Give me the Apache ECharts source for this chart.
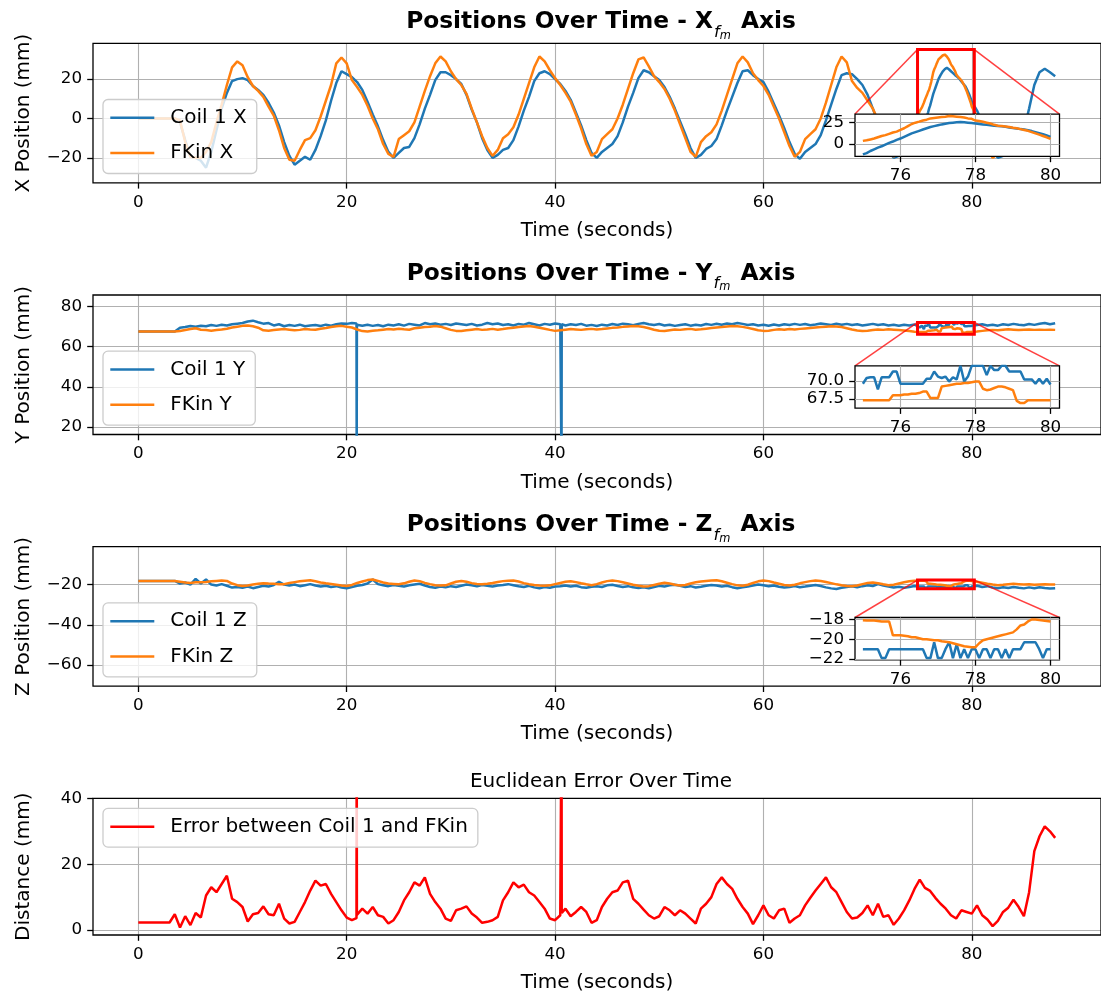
<!DOCTYPE html>
<html>
<head>
<meta charset="utf-8">
<script src="https://cdn.jsdelivr.net/npm/echarts@6/dist/echarts.min.js"></script>
<style>
  html, body { margin: 0; padding: 0; background: #fff; }
  #chart { width: 1101px; height: 994px; }
</style>
</head>
<body>
<div id="chart"></div>
<script>
// ---- recorded samples -------------------------------------------------------
// Log resampled every 0.5 s from 0 to 88 s.
const T = Array.from({ length: 177 }, (_, i) => i / 2);
// Finer 0.1 s samples for the 75–80 s window that the insets magnify.
const T_ZOOM = Array.from({ length: 51 }, (_, i) => (750 + i) / 10);

const coilX = [
  0, 0, 0, 0, 0, 0, 0, 0, -2, -11,
  -19.5, -20, -21.5, -25, -17, -6, 5, 13, 19, 20,
  20.5, 19.5, 16.5, 14.5, 12, 8, 3, -3.5, -12, -19,
  -23.5, -21.5, -19.5, -21, -16, -9, -1, 9, 18, 24,
  22.5, 21, 18.5, 14.5, 8.5, 2, -4, -11, -17, -20,
  -17.5, -15, -14.5, -10, -3, 5, 12, 19.5, 23.5, 23.5,
  22, 20, 17.5, 12, 4.5, -2, -10, -16, -20, -18.5,
  -16, -15, -11, -4, 4, 11, 19, 23, 24, 22.5,
  20, 17.5, 14, 9.5, 3, -3.5, -11, -17.5, -20, -17,
  -15, -13, -9, -2, 6, 13, 20.5, 24.5, 23.5, 21.5,
  19.5, 16, 11, 5, -1.5, -8, -15, -20, -18.5, -15.5,
  -14, -10.5, -3.5, 4, 11, 18, 24, 24.5, 22, 20,
  18.5, 13.5, 7.5, 1.5, -5, -12, -18, -20.5, -17, -15,
  -13, -8.5, -1, 7, 15, 22, 23, 22.5, 20, 17,
  12, 5, -2, -9, -16, -20, -19, -17, -15.5, -14,
  -12, -2.5, 6.5, 15.5, 22, 25.5, 24, 21.5, 18.8, 15.2,
  8.5, 4, -2, -9, -16, -20, -19, -17, -15.5, -13,
  -6, 5, 17, 23.5, 25.3, 23.5, 21.5
];
const fkinX = [
  0, 0, 0, 0, 0, 0, 0, 0, -1, -12,
  -19.5, -20, -20, -17, -12, -2, 7, 17, 26, 29,
  27, 21, 16.5, 14, 11, 6, 1.5, -6, -15, -21,
  -21.5, -16, -11, -10, -6, 1, 9, 17, 28, 31,
  28, 19.5, 16, 12, 6.5, 0, -5.5, -13, -18, -19.5,
  -10.5, -8.5, -6.5, -2, 6, 14, 21.5, 28, 31.5, 29,
  24, 20, 17, 12.5, 5, -2, -9, -15, -19, -16,
  -10, -8, -4.5, 2, 10, 18, 26, 31.5, 29, 24.5,
  20.5, 17, 13, 8.5, 2, -5, -13, -19, -17, -10.5,
  -8, -5.5, 0, 7, 15, 23, 30, 31, 26.5, 21.5,
  18.5, 15, 10, 4, -3, -10, -17, -19.5, -12, -9,
  -7, -3, 4, 12, 20, 28, 31.5, 28.5, 23, 19.5,
  16.5, 12, 6, 0, -7, -14, -19.5, -17, -10.5, -8,
  -5.5, 0, 8, 17, 26, 31.5, 28.5, 19, 15.5, 13,
  9, 5, -1, -9, -16, -19.5, -15, -10, -8, -3,
  3.8, 9.5, 16.5, 26.2, 31, 32, 27.5, 22.5, 19, 14,
  6, 1, -7, -15, -20, -18, -12, -10, -8.5, -8,
  -7.5, -7, -6.5, -6.5, -6.5, -6.8, -6.8
];
const coilY = [
  67.6, 67.6, 67.6, 67.6, 67.6, 67.6, 67.6, 67.6, 69.5, 69.8,
  70.3, 70, 70.5, 70.2, 70.8, 70.4, 71, 70.6, 71.2, 71.5,
  71.8, 72.6, 73, 72.2, 71.5, 71.8, 70.6, 71.2, 70.2, 70.8,
  70.4, 71, 70.2, 70.6, 70.8, 70.3, 71, 70.5, 71.2, 71.6,
  71.4, 71.8, 71, 70.5, 71, 70.4, 70.8, 70.2, 71, 70.6,
  71.2, 70.5, 71.4, 71, 70.6, 71.8, 71.2, 71.6, 71, 71.4,
  70.8, 71.6, 71.2, 70.8, 71.4, 70.6, 71, 71.8, 71.2, 71.6,
  70.8, 71.2, 70.6, 71.4, 71, 71.8, 71.2, 70.6, 71.4, 71,
  71.6, 71.2, 70.6, 71.2, 70.8, 71.4, 70.5, 70.9, 70.3, 71,
  70.6, 71.3, 70.8, 71.5, 71.2, 70.7, 71.4, 71.8, 71.2, 70.8,
  71.3, 70.6, 71, 70.4, 70.8, 71.2, 70.5, 71, 70.6, 71.3,
  70.9, 71.5, 71, 71.6, 71.2, 71.8, 71.4, 70.8, 71.2, 70.6,
  71, 70.5, 71.1, 70.6, 71.2, 70.8, 71.4, 70.9, 71.3, 70.7,
  71.1, 71.6, 71.2, 70.8, 71.5, 71, 71.4, 70.8, 71.2, 70.6,
  71, 71.4, 70.8, 71.2, 70.6, 71, 70.5, 71, 70.6, 71.1,
  69.6, 70.5, 69.6, 69.6, 70.6, 70.2, 72.1, 71.5, 71.3, 70.2,
  69.5, 70.8, 71.2, 70.6, 71, 70.5, 71.2, 70.8, 71.4, 71,
  70.7, 71.3, 70.9, 71.5, 71.8, 71.2, 71.7
];
const fkinY = [
  67.6, 67.6, 67.6, 67.6, 67.6, 67.6, 67.6, 67.6, 67.8, 68.3,
  68.8, 69.2, 68.5, 68.3, 68, 68.3, 68.6, 69, 69.6, 70,
  70.4, 70.6, 70.2, 69.5, 68.2, 68, 68.3, 68.6, 68.8, 68.5,
  68.2, 68.4, 68.8, 68.6, 68.5, 69, 69.3, 69.8, 70.2, 70.4,
  70, 69.6, 68.6, 67.8, 67.6, 68, 68.2, 68.5, 68.8, 68.6,
  69, 68.7, 68.5, 69.2, 69.5, 69.8, 70, 70.3, 70, 69.2,
  68.4, 67.9, 67.8, 68.2, 68.5, 68.8, 68.4, 68.6, 68.9, 68.5,
  68.8, 69.2, 69.5, 69.8, 70.1, 70.3, 70, 69.5, 69, 68.4,
  67.9, 68.2, 68.5, 68.8, 68.6, 68.4, 68.7, 68.9, 68.6, 68.8,
  69.1, 69.4, 69.6, 69.9, 70.1, 70.3, 70.2, 69.8, 69.2, 68.5,
  68, 67.8, 68.2, 68.6, 68.4, 68.7, 68.9, 68.5, 68.7, 69,
  69.3, 69.6, 69.8, 70.1, 70.3, 70.2, 69.9, 69.4, 68.8, 68.2,
  67.9, 68, 68.4, 68.7, 68.5, 68.8, 68.6, 68.9, 69.1, 69.3,
  69.6, 69.8, 70, 70.2, 70.1, 69.8, 69.2, 68.6, 68.1, 67.8,
  68, 68.3, 68.6, 68.4, 68.7, 68.5, 68.3, 68.1, 67.8, 67.5,
  67.3, 67.3, 68, 68.3, 67.6, 69.6, 69.9, 69, 68.7, 67.3,
  67.3, 67.6, 67.9, 68.2, 68.4, 68.2, 68.5, 68.7, 68.5, 68.3,
  68.5, 68.6, 68.4, 68.5, 68.4, 68.5, 68.4
];
const coilZ = [
  -18.2, -18.2, -18.2, -18.2, -18.2, -18.2, -18.2, -18.2, -19.5, -19,
  -20, -17.2, -19.5, -17.5, -20, -20.5, -19.8, -20.6, -21.5, -21.2,
  -21.6, -21, -21.8, -21.2, -20.6, -21, -20.2, -18.6, -20, -20.5,
  -20, -20.8, -20.3, -19.8, -20.5, -21, -20.6, -21.2, -20.8, -21.5,
  -21.8, -21.2, -20.6, -20.2, -19.5, -17.5, -19.8, -20.3, -20.8, -20.2,
  -20.6, -21, -20.4, -20, -19.6, -20.5, -21.2, -21.6, -21, -21.4,
  -20.8, -21.2, -20.6, -20, -20.4, -20.9, -20.2, -20.6, -21, -20.5,
  -20.2, -19.8, -20.3, -20.8, -21.2, -20.6, -21.4, -21.8, -21.2, -21.6,
  -21, -20.8, -20.5, -21, -20.6, -21.3, -21.6, -21.1, -20.8, -21.2,
  -20.4, -20.1, -20.7, -21.2, -20.8, -21.4, -21.7, -21.3, -21.8, -21.2,
  -20.6, -21, -20.4, -20.1, -20.6, -21.2, -20.8, -21.5, -21.1, -20.6,
  -20.2, -20.5, -21, -20.6, -21.3, -21.8, -21.4, -21, -20.5, -20,
  -20.4, -20.9, -20.5, -21.1, -21.5, -21.2, -20.7, -21.3, -21, -20.6,
  -20.2, -20.7, -21.4, -21.9, -22.2, -21.6, -21.2, -20.9, -21.4, -20.8,
  -20.3, -20.7, -19.8, -20.5, -21, -21.5, -21.1, -21.6, -21.2, -20.7,
  -21, -21.9, -21, -21, -21.9, -20.5, -21, -21, -21, -20.3,
  -21, -20.6, -21.2, -20.8, -21.5, -21.8, -21.3, -21.7, -21.2, -21.6,
  -21.9, -21.4, -21.8, -21.3, -21.7, -22, -21.8
];
const fkinZ = [
  -18.2, -18.2, -18.2, -18.2, -18.2, -18.2, -18.2, -18.2, -18.6, -19,
  -19.2, -18.9, -18.8, -18.7, -18.4, -18.2, -18, -18.2, -19.5, -20.3,
  -20.7, -20.5, -20, -19.6, -19.3, -19.5, -19.6, -19.8, -19.8, -19.2,
  -18.8, -18.4, -18.1, -17.9, -18.4, -19, -19.4, -19.7, -20.1, -20.5,
  -20.7, -20.2, -19.2, -18.5, -17.8, -17.5, -18.2, -19, -19.5, -19.7,
  -19.9, -19.4, -18.6, -18, -18.3, -19.2, -19.8, -20.3, -20.5, -20.4,
  -19.5, -18.6, -18.2, -18.6, -19.3, -19.7, -19.9, -19.6, -19.2, -18.7,
  -18.3, -18.1, -18, -18.5, -19.3, -19.8, -20.2, -20.5, -20.6, -20.4,
  -19.8, -19.2, -18.6, -18.4, -18.8, -19.4, -19.9, -20.3, -19.8, -19,
  -18.3, -18, -18.3, -18.9, -19.5, -20.1, -20.6, -21, -20.8, -20.2,
  -19.6, -19.1, -19.5, -20.1, -20.5, -20.2, -19.5, -18.9, -18.5, -18.2,
  -18, -17.9, -18.4, -19.1, -19.8, -20.4, -20.6, -20.1, -19.2, -18.4,
  -18, -18.3, -19, -19.6, -20.2, -20.5, -20.1, -19.4, -18.8, -18.3,
  -18, -18.2, -18.7, -19.3, -19.9, -20.4, -20.7, -20.9, -20.5, -19.8,
  -19.2, -19, -19.4, -19.9, -20.3, -20.1, -19.5, -18.9, -18.4, -18.1,
  -18.07, -18.2, -19.6, -19.9, -20.1, -20.5, -20.8, -19.8, -19.3, -18,
  -18.2, -18.6, -19.1, -19.6, -20, -20.3, -20.1, -19.8, -19.6, -19.8,
  -20, -19.9, -20.1, -20, -19.9, -20, -20
];
const errDist = [
  2.3, 2.3, 2.3, 2.3, 2.3, 2.3, 2.3, 4.8, 0.8, 4.2,
  1.5, 5.2, 3.8, 10.5, 13, 11.5, 14, 16.5, 9.5, 8.5,
  7, 2.6, 4.8, 5.2, 7.2, 4.8, 4.5, 8, 3.5, 2,
  2.5, 5.5, 8.5, 12, 15, 13.5, 14, 11, 8.5, 6,
  3.8, 3, 5, 6.5, 5, 7, 4.5, 4, 2, 3,
  5.5, 9, 11.5, 14.5, 13.5, 16, 11, 8.5, 6.5, 3.5,
  2.8, 6, 6.5, 7.2, 5, 3.8, 2.2, 2.5, 3, 4,
  9, 11.5, 14.5, 13, 13.8, 11.5, 10.5, 8.5, 6.5, 3.5,
  3, 4.5, 6.5, 4.2, 5.5, 7, 5.5, 2.2, 3, 7,
  9.5, 11.5, 12, 14.5, 15, 9.5, 8, 6.2, 4.5, 3.5,
  4.2, 7, 6, 4.5, 6, 5, 3.5, 2, 6.5, 8,
  10, 14, 16, 14, 12.5, 9.5, 7, 5, 1.8, 4.5,
  7.5, 4.5, 3.5, 6, 6.5, 2.2, 3.5, 4.5, 7.5, 9.8,
  12, 14, 16, 13, 11.5, 8.5, 5.5, 3.5, 3.8, 5.2,
  7.5, 4.5, 8, 4, 4.5, 1.6, 3.5, 6, 9, 12.5,
  15.3, 12.8, 11.9, 9.8, 8, 6.5, 4.5, 3.5, 6, 5.5,
  5, 7.5, 4.5, 3.2, 1.2, 2.8, 5.5, 6.8, 9.2, 7,
  4.2, 11.5, 24, 28.5, 31.5, 30, 28
];

// Two dropouts of the coil Y reading, each a single bad sample.
const coilYSpikes = [[20.94, 71.6], [20.96, 0], [20.98, 71.0], [40.60, 71.4], [40.62, 0], [40.64, 71.2]];
const errSpikes = [[20.94, 3.6], [20.96, 68], [20.98, 4.6], [40.60, 4.0], [40.62, 68], [40.64, 5.2]];

// 75–80 s window at 0.1 s
const coilXZoom = [
  -12, -10.5, -8, -6, -4, -2.5, -0.5, 1.5, 3, 5,
  6.5, 8.5, 10.5, 12.5, 14, 15.5, 17, 18.5, 20, 21,
  22, 23, 23.8, 24.5, 25, 25.5, 25.8, 25.5, 25, 24.5,
  24, 23.5, 23, 22.5, 22, 21.5, 21.2, 20.8, 20.2, 19.5,
  18.8, 18.2, 17.5, 17, 16.2, 15.2, 14, 12.8, 11.5, 10,
  8.5
];
const fkinXZoom = [
  3.8, 4.5, 5.5, 6.5, 8, 9.5, 10.5, 12, 13.5, 14.6,
  16.5, 18.5, 21, 23.5, 25, 26.2, 27.5, 28.5, 30, 30.5,
  31, 31.5, 32, 32.7, 32.5, 32, 31.5, 31, 30, 29.5,
  27.5, 27, 26, 25, 24, 22.5, 21.5, 21, 20.5, 20,
  19, 18.5, 17.5, 16.5, 15.5, 14, 12.5, 11, 9.5, 8,
  6
];
const coilYZoom = [
  69.6, 70.4, 70.5, 70.5, 68.8, 70.5, 70.5, 70.5, 71.3, 71.3,
  69.6, 69.6, 69.6, 69.6, 69.6, 69.6, 69.6, 70.3, 70.3, 71.3,
  70.6, 70.4, 70.6, 69.9, 70.5, 70.2, 72.1, 69.9, 70.6, 72.1,
  72.1, 72.1, 72.1, 70.8, 72.1, 71.5, 71.5, 72.1, 72.1, 71.3,
  71.3, 71.3, 71.3, 70.2, 70.2, 70.2, 69.6, 70.3, 69.6, 70.3,
  69.5
];
const fkinYZoom = [
  67.3, 67.3, 67.3, 67.3, 67.3, 67.3, 67.3, 67.3, 68.0, 68.0,
  68.0, 68.1, 68.1, 68.2, 68.2, 68.3, 68.5, 68.5, 67.6, 67.6,
  67.6, 69.2, 69.3, 69.4, 69.5, 69.6, 69.6, 69.7, 69.7, 69.8,
  69.9, 69.9, 68.9, 68.7, 68.8, 69.0, 69.2, 69.2, 69.1, 68.9,
  68.7, 67.2, 66.9, 66.9, 67.3, 67.3, 67.3, 67.3, 67.3, 67.3,
  67.3
];
const coilZZoom = [
  -21, -21, -21, -21, -21, -21.9, -21.9, -21, -21, -21,
  -21, -21, -21, -21, -21, -21, -21, -21.9, -21.9, -20.3,
  -21.9, -21.9, -21, -20.3, -21.9, -20.5, -21.9, -21, -21.9, -21,
  -21, -21.9, -21, -21, -21.9, -21, -21, -21.9, -21, -21.9,
  -21, -21, -21, -20.3, -20.3, -20.3, -20.3, -21, -21.9, -21,
  -21
];
const fkinZZoom = [
  -18.07, -18.1, -18.1, -18.1, -18.15, -18.2, -18.2, -18.2, -19.6, -19.6,
  -19.6, -19.65, -19.7, -19.8, -19.8, -19.9, -20, -20, -20.05, -20.1,
  -20.1, -20.2, -20.25, -20.3, -20.4, -20.5, -20.6, -20.7, -20.75, -20.8,
  -20.8, -20.4, -20.1, -20, -19.9, -19.8, -19.7, -19.6, -19.5, -19.4,
  -19.3, -19, -18.6, -18.5, -18.2, -18, -18, -18.05, -18.1, -18.15,
  -18.2
];

// ---- axes ranges and ticks ------------------------------------------------
const X_RANGE = [-4.35, 92.4];
const X_TICKS = [0, 20, 40, 60, 80];
const Y_RANGES = [[-32.7, 38.2], [16.2, 85.8], [-70.5, -1.2], [-1.5, 40]];
const Y_TICKS = [[-20, 0, 20], [20, 40, 60, 80], [-60, -40, -20], [0, 20, 40]];
const Y_NAMES = ['X Position (mm)', 'Y Position (mm)', 'Z Position (mm)', 'Distance (mm)'];
const ZOOM_X = [74.79, 80.24];
const ZOOM_X_TICKS = [76, 78, 80];
const ZOOM_Y = [[-14.3, 35], [66.2, 72.1], [-22.07, -17.8]];
const ZOOM_Y_TICKS = [[0, 25], [67.5, 70.0], [-22, -20, -18]];
const ZOOM_Y_DIGITS = [0, 1, 0];

// ---- layout / style ---------------------------------------------------------
const FONT = 'DejaVu Sans';
const BLUE = '#1f77b4', ORANGE = '#ff7f0e', RED = '#ff0000';
const PANEL_TOPS = [43.3, 295.0, 546.7, 798.4];
const PANEL_H = 139.5;
const PLOT_LEFT = 93, PLOT_W = 1016;
const INSET_LEFT = 855, INSET_W = 204.5, INSET_DY = 70.8, INSET_H = 42.3;
const TICK_FONT = 16.7, LABEL_FONT = 20;

[coilX, fkinX, coilY, fkinY, coilZ, fkinZ, errDist].forEach((a, i) => {
  if (a.length !== T.length) throw new Error('series ' + i + ' has ' + a.length + ' samples');
});
[coilXZoom, fkinXZoom, coilYZoom, fkinYZoom, coilZZoom, fkinZZoom].forEach((a, i) => {
  if (a.length !== T_ZOOM.length) throw new Error('zoom series ' + i + ' has ' + a.length + ' samples');
});

// Coarse samples outside the zoom window, fine samples inside it, plus any extra events.
function samples(coarse, fine, extra) {
  const lo = T_ZOOM[0], hi = T_ZOOM[T_ZOOM.length - 1];
  const pts = [];
  T.forEach((t, i) => { if (!fine || t < lo || t > hi) pts.push([t, coarse[i]]); });
  if (fine) T_ZOOM.forEach((t, i) => pts.push([t, fine[i]]));
  (extra || []).forEach(p => pts.push(p));
  return pts.sort((a, b) => a[0] - b[0]);
}
const zoomSamples = fine => T_ZOOM.map((t, i) => [t, fine[i]]);

const fmtTick = digits => v => (digits ? Number(v).toFixed(digits) : String(v)).replace('-', '\u2212');

function axisBase(gridIndex, range, ticks, digits, z) {
  return {
    type: 'value', gridIndex, min: range[0], max: range[1], z,
    axisLine: { show: false, onZero: false },
    axisTick: { show: true, customValues: ticks, length: 5.8, lineStyle: { color: '#000', width: 1.3 } },
    axisLabel: { customValues: ticks, margin: 11, color: '#000', fontFamily: FONT, fontSize: TICK_FONT, formatter: fmtTick(digits) },
    splitLine: { show: true, lineStyle: { color: '#b0b0b0', width: 1.1 } },
    minorTick: { show: false }, minorSplitLine: { show: false }
  };
}

const xAxes = [], yAxes = [], grids = [];
PANEL_TOPS.forEach((top, k) => {
  grids.push({ left: PLOT_LEFT, top, width: PLOT_W, height: PANEL_H, show: true,
    backgroundColor: 'transparent', borderColor: '#000', borderWidth: 1.3, z: 1 });
  xAxes.push(Object.assign(axisBase(k, X_RANGE, X_TICKS, 0, 0), {
    name: 'Time (seconds)', nameLocation: 'middle', nameGap: 38,
    nameTextStyle: { color: '#000', fontFamily: FONT, fontSize: LABEL_FONT }
  }));
  yAxes.push(Object.assign(axisBase(k, Y_RANGES[k], Y_TICKS[k], 0, 0), {
    name: Y_NAMES[k], nameLocation: 'middle', nameGap: 59, nameRotate: 90,
    nameTextStyle: { color: '#000', fontFamily: FONT, fontSize: LABEL_FONT }
  }));
});
[0, 1, 2].forEach(k => {
  grids.push({ left: INSET_LEFT, top: PANEL_TOPS[k] + INSET_DY, width: INSET_W, height: INSET_H, show: true,
    backgroundColor: '#fff', borderColor: '#000', borderWidth: 1.3, z: 5 });
  xAxes.push(axisBase(4 + k, ZOOM_X, ZOOM_X_TICKS, 0, 6));
  yAxes.push(axisBase(4 + k, ZOOM_Y[k], ZOOM_Y_TICKS[k], ZOOM_Y_DIGITS[k], 6));
});

function line(name, data, color, axis, z) {
  return {
    type: 'line', name, data, xAxisIndex: axis, yAxisIndex: axis, z,
    symbol: 'none', showSymbol: false, clip: true, silent: true,
    lineStyle: { color, width: 2.5 }, itemStyle: { color },
    emphasis: { disabled: true }, animation: false
  };
}

const series = [
  line('Coil 1 X', samples(coilX, coilXZoom), BLUE, 0, 2),
  line('FKin X', samples(fkinX, fkinXZoom), ORANGE, 0, 2),
  line('Coil 1 Y', samples(coilY, coilYZoom, coilYSpikes), BLUE, 1, 2),
  line('FKin Y', samples(fkinY, fkinYZoom), ORANGE, 1, 2),
  line('Coil 1 Z', samples(coilZ, coilZZoom), BLUE, 2, 2),
  line('FKin Z', samples(fkinZ, fkinZZoom), ORANGE, 2, 2),
  line('Error between Coil 1 and FKin', samples(errDist, null, errSpikes), RED, 3, 2),
  line('Coil 1 X', zoomSamples(coilXZoom), BLUE, 4, 7),
  line('FKin X', zoomSamples(fkinXZoom), ORANGE, 4, 7),
  line('Coil 1 Y', zoomSamples(coilYZoom), BLUE, 5, 7),
  line('FKin Y', zoomSamples(fkinYZoom), ORANGE, 5, 7),
  line('Coil 1 Z', zoomSamples(coilZZoom), BLUE, 6, 7),
  line('FKin Z', zoomSamples(fkinZZoom), ORANGE, 6, 7)
];

function legendBox(names, top) {
  return {
    data: names, left: 103, top, orient: 'vertical', selectedMode: false,
    icon: 'rect', itemWidth: 44, itemHeight: 2.5, itemGap: 13.3, padding: [7.3, 10, 9.4, 7.3],
    backgroundColor: 'rgba(255,255,255,0.8)', borderColor: '#cccccc', borderWidth: 1.3, borderRadius: 5,
    textStyle: { color: '#000', fontFamily: FONT, fontSize: LABEL_FONT, lineHeight: 22, padding: [0, 0, 0, 11] },
    z: 4
  };
}
const legends = [
  legendBox(['Coil 1 X', 'FKin X'], PANEL_TOPS[0] + 56.2),
  legendBox(['Coil 1 Y', 'FKin Y'], PANEL_TOPS[1] + 56.2),
  legendBox(['Coil 1 Z', 'FKin Z'], PANEL_TOPS[2] + 56.2),
  legendBox(['Error between Coil 1 and FKin'], PANEL_TOPS[3] + 10)
];

const TITLE_RICH = {
  b: { fontFamily: FONT, fontSize: 23.3, fontWeight: 'bold', color: '#000', lineHeight: 30, verticalAlign: 'top' },
  s: { fontFamily: FONT, fontSize: 16.3, fontWeight: 'normal', fontStyle: 'italic', color: '#000', lineHeight: 16, verticalAlign: 'top', padding: [14, 0, 0, 1] },
  ss: { fontFamily: FONT, fontSize: 11.4, fontWeight: 'normal', fontStyle: 'italic', color: '#000', lineHeight: 11, verticalAlign: 'top', padding: [20, 2, 0, 0] }
};
const titles = ['X', 'Y', 'Z'].map((a, k) => ({
  text: '{b|Positions Over Time - ' + a + '}{s|f}{ss|m}{b| Axis}',
  left: PLOT_LEFT + PLOT_W / 2, textAlign: 'center', top: PANEL_TOPS[k] - 33, padding: 0,
  textStyle: { fontSize: 23.3, lineHeight: 30, rich: TITLE_RICH }
}));
titles.push({
  text: 'Euclidean Error Over Time',
  left: PLOT_LEFT + PLOT_W / 2, textAlign: 'center', top: PANEL_TOPS[3] - 30, padding: 0,
  textStyle: { fontFamily: FONT, fontSize: LABEL_FONT, fontWeight: 'normal', color: '#000', lineHeight: 26 }
});

const chart = echarts.init(document.getElementById('chart'), null, { renderer: 'canvas' });
chart.setOption({
  animation: false,
  backgroundColor: '#fff',
  textStyle: { fontFamily: FONT },
  title: titles,
  legend: legends,
  grid: grids,
  xAxis: xAxes,
  yAxis: yAxes,
  series
});

// Zoom-window outline on each position panel and the lines tying it to its inset.
const decorations = [];
[0, 1, 2].forEach(k => {
  const [x0, x1] = ZOOM_X, [y0, y1] = ZOOM_Y[k];
  const tl = chart.convertToPixel({ gridIndex: k }, [x0, y1]);
  const br = chart.convertToPixel({ gridIndex: k }, [x1, y0]);
  const tr = chart.convertToPixel({ gridIndex: k }, [x1, y1]);
  const insetTL = chart.convertToPixel({ gridIndex: 4 + k }, [x0, y1]);
  const insetTR = chart.convertToPixel({ gridIndex: 4 + k }, [x1, y1]);
  decorations.push({ type: 'rect', silent: true, z: 4,
    shape: { x: tl[0], y: tl[1], width: br[0] - tl[0], height: br[1] - tl[1] },
    style: { fill: 'none', stroke: RED, lineWidth: 3 } });
  decorations.push({ type: 'line', silent: true, z: 4,
    shape: { x1: tl[0], y1: tl[1], x2: insetTL[0], y2: insetTL[1] },
    style: { stroke: 'rgba(255,0,0,0.75)', lineWidth: 1.5 } });
  decorations.push({ type: 'line', silent: true, z: 4,
    shape: { x1: tr[0], y1: tr[1], x2: insetTR[0], y2: insetTR[1] },
    style: { stroke: 'rgba(255,0,0,0.75)', lineWidth: 1.5 } });
});
chart.setOption({ graphic: decorations });
</script>
</body>
</html>
